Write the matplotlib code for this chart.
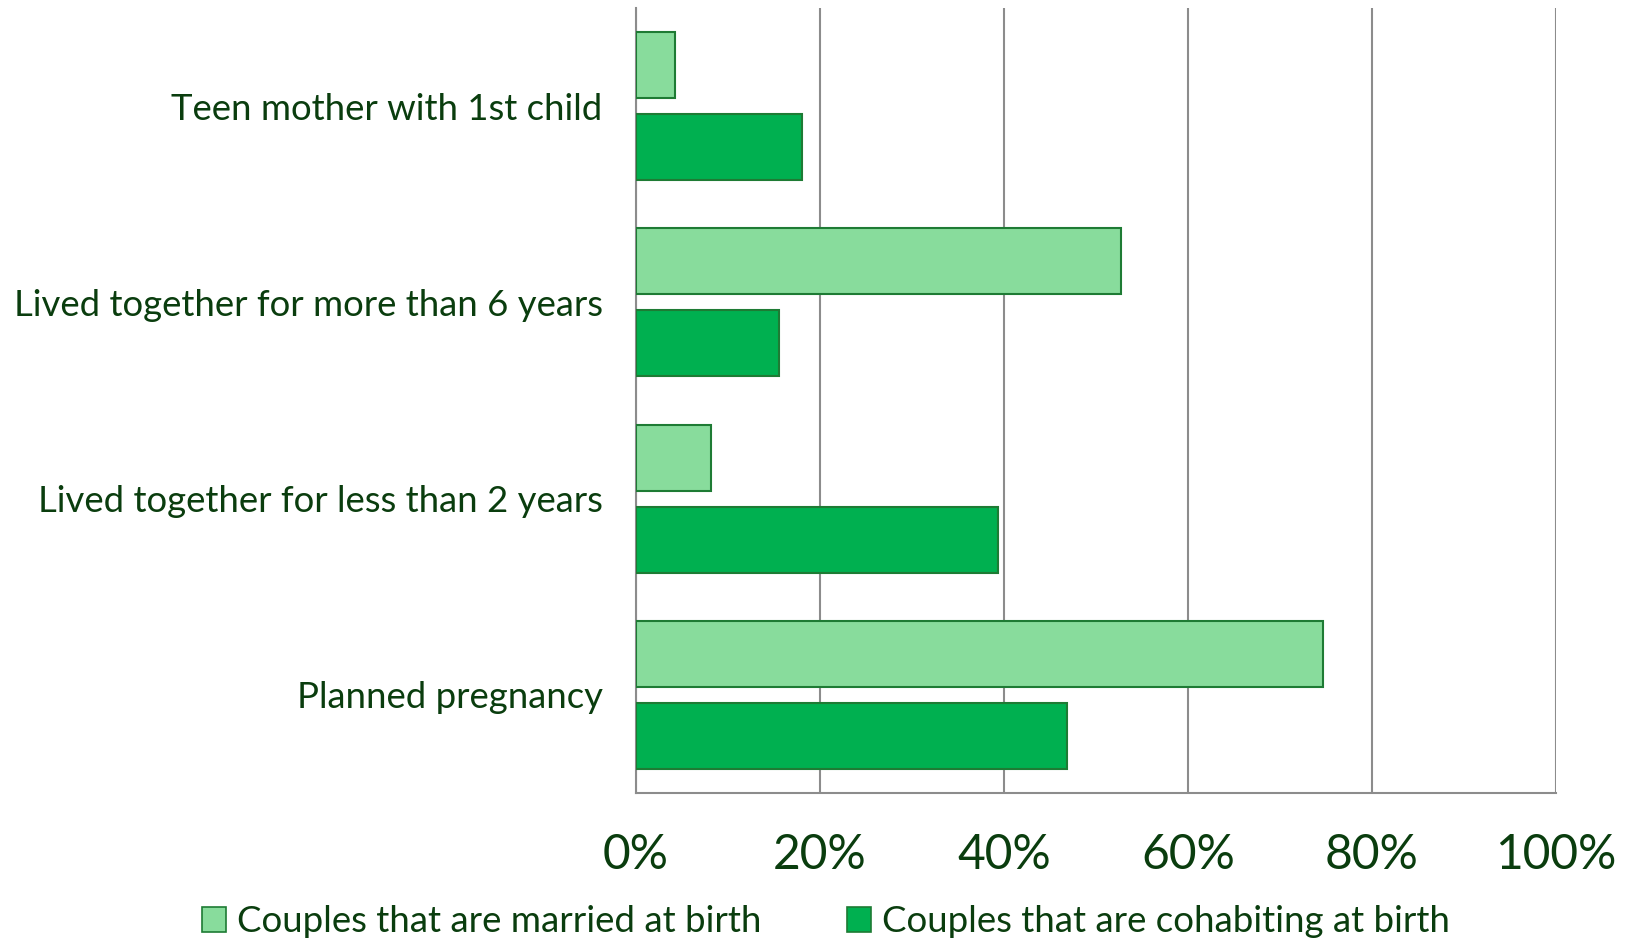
import numpy as np
import matplotlib.pyplot as plt
from matplotlib.patches import Patch

# ── Data ─────────────────────────────────────────────────────
categories = ["Teen mother with 1st child",
              "Lived together for more than 6 years",
              "Lived together for less than 2 years",
              "Planned pregnancy"]
married = [4.2, 52.7, 8.1, 74.7]
cohabiting = [18.0, 15.5, 39.3, 46.8]
xticks = [0, 20, 40, 60, 80, 100]
series_names = ["Couples that are married at birth",
                "Couples that are cohabiting at birth"]

light = "#88DC9C"
dark = "#00B050"
edge = "#1E7B34"
text_col = "#0A3D0E"
grid_col = "#8C8C8C"

plt.rcParams['font.family'] = ['Lato', 'DejaVu Sans']

fig = plt.figure(figsize=(16.26, 9.42), dpi=100)
ax = fig.add_axes([636/1626, 1 - 793/942, (1556-636)/1626, (793-8)/942])

y = np.arange(len(categories))[::-1]
h = 0.336
off = 0.209
ax.barh(y + off, married, height=h, color=light, edgecolor=edge, linewidth=1.5, zorder=3)
ax.barh(y - off, cohabiting, height=h, color=dark, edgecolor=edge, linewidth=1.5, zorder=3)

ax.set_xlim(0, 100)
ax.set_ylim(-0.5, len(categories) - 0.5)
ax.set_xticks(xticks)
ax.set_xticklabels([f"{v}%" for v in xticks], fontsize=34.5, color=text_col)
ax.set_yticks(y)
ax.set_yticklabels(categories, fontsize=26.3, color=text_col)
ax.tick_params(axis='both', length=0)
ax.tick_params(axis='x', pad=29)
ax.tick_params(axis='y', pad=24)

ax.grid(axis='x', color=grid_col, linewidth=1.5, zorder=0)
for s in ['top', 'right']:
    ax.spines[s].set_visible(False)
for s in ['left', 'bottom']:
    ax.spines[s].set_color(grid_col)
    ax.spines[s].set_linewidth(1.5)

handles = [Patch(facecolor=light, edgecolor=edge, linewidth=1.2),
           Patch(facecolor=dark, edgecolor=edge, linewidth=1.2)]
leg = fig.legend(handles, series_names, loc='center', bbox_to_anchor=(0.508, 1 - 922/942),
                 ncol=2, frameon=False, fontsize=26.4, handlelength=0.65, handleheight=0.65,
                 handletextpad=0.3, columnspacing=2.35)
for t in leg.get_texts():
    t.set_color(text_col)

fig.savefig("out.png", dpi=100)
